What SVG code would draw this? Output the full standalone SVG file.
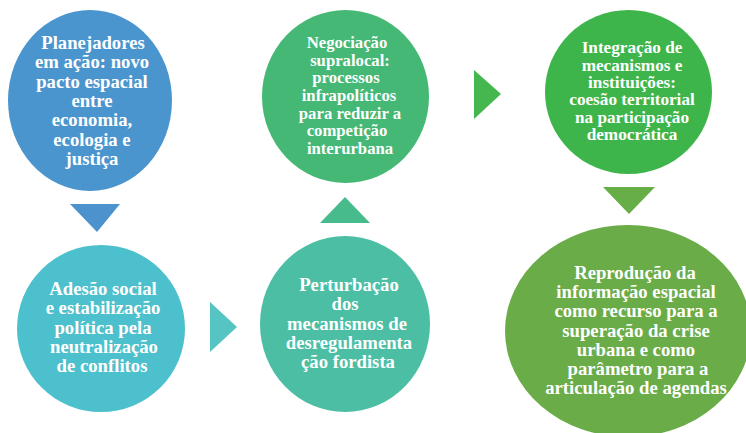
<svg xmlns="http://www.w3.org/2000/svg" width="746" height="433" viewBox="0 0 746 433">
<style>
text{font-family:"Liberation Serif","Times New Roman",serif;font-weight:bold;fill:#ffffff;text-anchor:middle}
.f1{font-size:18.7px}
.f4{font-size:16.7px}
.f5{font-size:17.2px}
</style>
<rect width="746" height="433" fill="#ffffff"/>
<g id="connectors">
<polygon points="70,204 120,204 97,232" fill="#4C93CD"/>
<polygon points="210,302 210,352 237,327" fill="#55C4C3"/>
<polygon points="320,223 370,223 345,197" fill="#47BB8C"/>
<polygon points="474,70 474,119 501,94" fill="#44B74E"/>
<polygon points="603,187 655,187 629,214" fill="#67AD48"/>
</g>
<g id="node1">
<ellipse cx="90" cy="100.5" rx="82" ry="90.5" fill="#4B95CE"/>
<text class="f1"><tspan x="93" y="49">Planejadores</tspan><tspan x="92" y="68.3">em ação: novo</tspan><tspan x="92" y="87.7">pacto espacial</tspan><tspan x="92" y="107">entre</tspan><tspan x="92" y="126.3">economia,</tspan><tspan x="92" y="145.7">ecologia e</tspan><tspan x="92" y="165">justiça</tspan></text>
</g>
<g id="node2">
<ellipse cx="101" cy="328.5" rx="84" ry="83.5" fill="#4DC0CD"/>
<text class="f1"><tspan x="103" y="295">Adesão social</tspan><tspan x="103" y="314.3">e estabilização</tspan><tspan x="103" y="333.5">política pela</tspan><tspan x="104" y="352.8">neutralização</tspan><tspan x="102" y="372">de conflitos</tspan></text>
</g>
<g id="node3">
<ellipse cx="345" cy="324" rx="85" ry="88" fill="#4BBEA4"/>
<text class="f1"><tspan x="349" y="291">Perturbação</tspan><tspan x="345" y="310.3">dos</tspan><tspan x="347" y="329.5">mecanismos de</tspan><tspan x="349" y="348.8">desregulamenta</tspan><tspan x="348" y="368">ção fordista</tspan></text>
</g>
<g id="node4">
<ellipse cx="345.5" cy="96.5" rx="83.5" ry="86.5" fill="#44B874"/>
<text class="f4"><tspan x="347" y="48">Negociação</tspan><tspan x="350" y="65.7">supralocal:</tspan><tspan x="346" y="83.3">processos</tspan><tspan x="349" y="101">infrapolíticos</tspan><tspan x="350" y="118.7">para reduzir a</tspan><tspan x="347" y="136.3">competição</tspan><tspan x="350" y="154">interurbana</tspan></text>
</g>
<g id="node5">
<ellipse cx="628.5" cy="92" rx="83.5" ry="82" fill="#3EB54A"/>
<text class="f5"><tspan x="632" y="53.3">Integração de</tspan><tspan x="632" y="70.7">mecanismos e</tspan><tspan x="632" y="88">instituições:</tspan><tspan x="632" y="105.3">coesão territorial</tspan><tspan x="632" y="122.7">na participação</tspan><tspan x="632" y="140">democrática</tspan></text>
</g>
<g id="node6">
<ellipse cx="628" cy="331" rx="123" ry="106" fill="#6AAC47"/>
<text class="f1"><tspan x="635" y="279">Reprodução da</tspan><tspan x="636" y="298.2">informação espacial</tspan><tspan x="636" y="317.4">como recurso para a</tspan><tspan x="636" y="336.6">superação da crise</tspan><tspan x="636" y="355.8">urbana e como</tspan><tspan x="638" y="375">parâmetro para a</tspan><tspan x="636" y="394.2">articulação de agendas</tspan></text>
</g>
</svg>
